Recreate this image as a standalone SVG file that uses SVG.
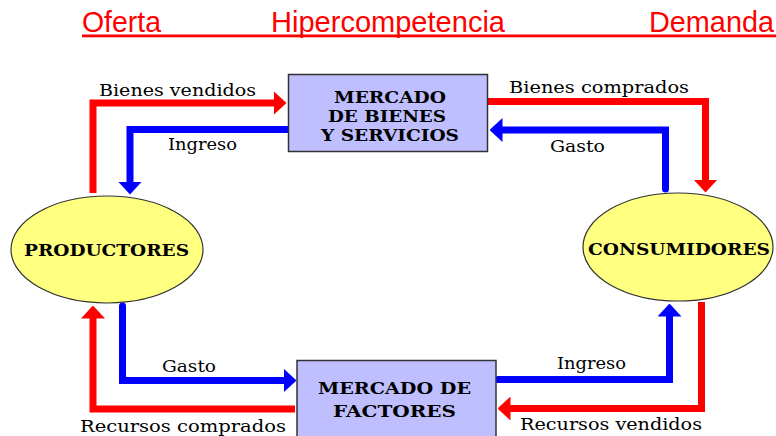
<svg xmlns="http://www.w3.org/2000/svg" width="776" height="436" viewBox="0 0 776 436">
<style>
.title{font-family:"Liberation Sans",Arial,sans-serif;font-size:29px;fill:#FF0000}
.lbl{font-family:"DejaVu Serif","Liberation Serif",serif;font-size:17px;fill:#000}
.box{fill:#BFBFFF;stroke:#333;stroke-width:1.5}
.ell{fill:#FFFF80;stroke:#333;stroke-width:1.2}
.btxt{font-family:"DejaVu Serif","Liberation Serif",serif;font-size:16px;font-weight:bold;fill:#000}
.r{fill:none;stroke:#FF0000;stroke-width:7;stroke-linejoin:miter;marker-end:url(#hr)}
.b{fill:none;stroke:#0000FF;stroke-width:7;stroke-linejoin:miter;stroke-linecap:round;marker-end:url(#hb)}
</style>
<defs>
<marker id="hr" markerUnits="userSpaceOnUse" viewBox="0 0 13 24" markerWidth="13" markerHeight="24" refX="0.5" refY="12" orient="auto"><path d="M0,0 L13,12 L0,24 z" fill="#FF0000"/></marker>
<marker id="hb" markerUnits="userSpaceOnUse" viewBox="0 0 13 24" markerWidth="13" markerHeight="24" refX="0.5" refY="12" orient="auto"><path d="M0,0 L13,12 L0,24 z" fill="#0000FF"/></marker>
</defs>
<rect width="776" height="436" fill="#FFFFFF"/>
<g id="title">
<text class="title" x="82" y="32" textLength="79" lengthAdjust="spacingAndGlyphs">Oferta</text>
<text class="title" x="271" y="32" textLength="234" lengthAdjust="spacingAndGlyphs">Hipercompetencia</text>
<text class="title" x="649" y="32" textLength="125" lengthAdjust="spacingAndGlyphs">Demanda</text>
<rect x="82" y="34.5" width="694" height="2.8" fill="#FF0000"/>
</g>
<g id="connectors">
<path class="r" d="M93,193 V103 H274"/>
<path class="b" d="M288,129.5 H130 V182"/>
<path class="r" d="M488,101.5 H705.5 V180"/>
<path class="b" d="M665.5,189 V130 H502"/>
<path class="r" d="M295,409 H93 V318"/>
<path class="b" d="M122.5,306 V380.5 H284"/>
<path class="b" d="M498,379.5 H669.5 V316"/>
<path class="r" d="M701.5,302 V408.5 H510"/>
</g>
<g id="labels">
<text class="lbl" x="99" y="96" textLength="157" lengthAdjust="spacingAndGlyphs">Bienes vendidos</text>
<text class="lbl" x="168" y="150" textLength="69" lengthAdjust="spacingAndGlyphs">Ingreso</text>
<text class="lbl" x="509" y="93" textLength="180" lengthAdjust="spacingAndGlyphs">Bienes comprados</text>
<text class="lbl" x="550" y="152" textLength="55" lengthAdjust="spacingAndGlyphs">Gasto</text>
<text class="lbl" x="162" y="372" textLength="54" lengthAdjust="spacingAndGlyphs">Gasto</text>
<text class="lbl" x="80" y="432" textLength="206" lengthAdjust="spacingAndGlyphs">Recursos comprados</text>
<text class="lbl" x="557" y="369" textLength="69" lengthAdjust="spacingAndGlyphs">Ingreso</text>
<text class="lbl" x="520" y="430" textLength="182" lengthAdjust="spacingAndGlyphs">Recursos vendidos</text>
</g>
<g id="mercado-bienes">
<rect class="box" x="288.5" y="74.5" width="199" height="77"/>
<text class="btxt" x="334" y="103" textLength="112" lengthAdjust="spacingAndGlyphs">MERCADO</text>
<text class="btxt" x="328" y="122" textLength="118" lengthAdjust="spacingAndGlyphs">DE BIENES</text>
<text class="btxt" x="321" y="141" textLength="138" lengthAdjust="spacingAndGlyphs">Y SERVICIOS</text>
</g>
<g id="mercado-factores">
<rect class="box" x="297" y="360.5" width="199" height="80"/>
<text class="btxt" x="318" y="394" textLength="153" lengthAdjust="spacingAndGlyphs">MERCADO DE</text>
<text class="btxt" x="333" y="417" textLength="123" lengthAdjust="spacingAndGlyphs">FACTORES</text>
</g>
<g id="productores">
<ellipse class="ell" cx="107" cy="249.5" rx="96" ry="53.5"/>
<text class="btxt" x="24" y="256" textLength="165" lengthAdjust="spacingAndGlyphs">PRODUCTORES</text>
</g>
<g id="consumidores">
<ellipse class="ell" cx="678" cy="247" rx="95" ry="54"/>
<text class="btxt" x="588" y="255" textLength="182" lengthAdjust="spacingAndGlyphs">CONSUMIDORES</text>
</g>
</svg>
